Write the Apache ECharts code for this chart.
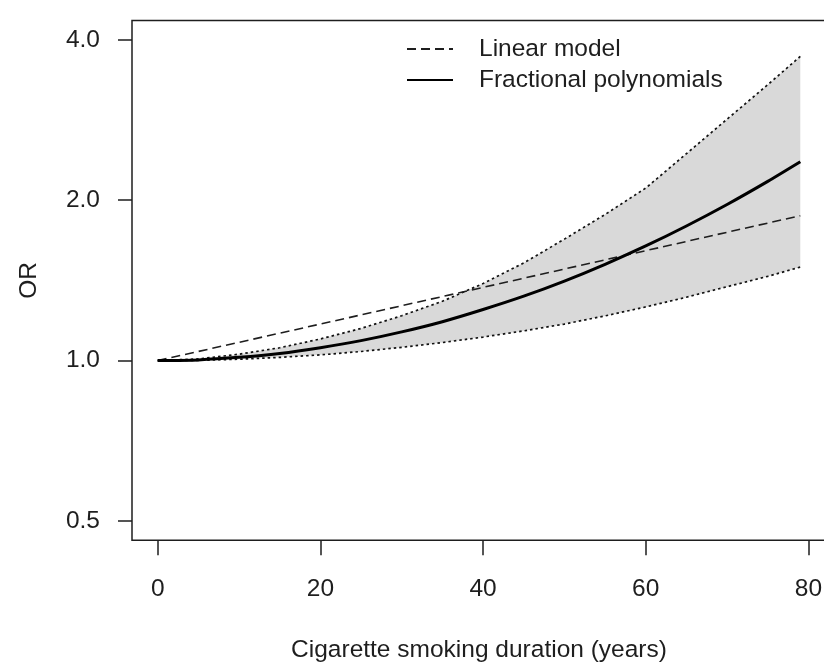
<!DOCTYPE html>
<html>
<head>
<meta charset="utf-8">
<title>OR by cigarette smoking duration</title>
<script src="https://cdn.jsdelivr.net/npm/echarts@6/dist/echarts.min.js"></script>
<style>
  html, body { margin: 0; padding: 0; background: #ffffff; }
  #chart { width: 824px; height: 662px; }
</style>
</head>
<body>
<div id="chart"></div>
<script>
// Smoking duration grid (years) for the fractional polynomial fit and its 95% CI
const years = [0, 5, 10, 15, 20, 25, 30, 35, 40, 45, 50, 55, 60, 65, 70, 75, 79];
const fpOR = [1.000, 1.003, 1.014, 1.031, 1.057, 1.090, 1.132, 1.183, 1.247, 1.321,
              1.410, 1.516, 1.641, 1.789, 1.963, 2.169, 2.361];
const ciLower = [1.000, 1.001, 1.006, 1.014, 1.025, 1.040, 1.059, 1.081, 1.107, 1.137,
                 1.171, 1.213, 1.261, 1.315, 1.376, 1.439, 1.498];
const ciUpper = [1.000, 1.007, 1.028, 1.057, 1.098, 1.149, 1.214, 1.292, 1.395, 1.525,
                 1.690, 1.880, 2.107, 2.445, 2.838, 3.294, 3.722];

// Linear (log-linear) model
const linearYears = [0, 20, 40, 60, 79];
const linearOR = [1.000, 1.171, 1.372, 1.608, 1.870];

// Axis ticks
const xTicks = [0, 20, 40, 60, 80];
const yTicks = [0.5, 1, 2, 4];

const pairs = (xs, ys) => xs.map((x, i) => [x, ys[i]]);

const ink = '#1e1e1e';
const font = '"Liberation Sans", Arial, Helvetica, sans-serif';
const fs = 24.5;

const chart = echarts.init(document.getElementById('chart'), null, { renderer: 'canvas' });

// Confidence band: one polygon along the upper bound and back along the lower bound
function renderBand(params, api) {
  const pts = [];
  for (let i = 0; i < years.length; i++) pts.push(api.coord([years[i], ciUpper[i]]));
  for (let i = years.length - 1; i >= 0; i--) pts.push(api.coord([years[i], ciLower[i]]));
  return { type: 'polygon', shape: { points: pts, smooth: 0 }, style: { fill: '#d9d9d9' }, silent: true };
}

chart.setOption({
  animation: false,
  backgroundColor: '#ffffff',
  textStyle: { fontFamily: font, color: ink },
  grid: {
    left: 132, top: 20.5, right: -2, bottom: 121.7,
    outerBoundsMode: 'none',
    containLabel: false,
    show: true, borderColor: ink, borderWidth: 1.5, backgroundColor: 'transparent'
  },
  legend: {
    data: ['Linear model', 'Fractional polynomials'],
    orient: 'vertical',
    left: 406, top: 35, padding: 0,
    itemWidth: 46, itemHeight: 14, itemGap: 3,
    selectedMode: false,
    itemStyle: { opacity: 0 },
    textStyle: { fontFamily: font, fontSize: fs, color: ink, lineHeight: 28, padding: [0, 0, 0, 21] }
  },
  xAxis: {
    type: 'value',
    min: -3.16, max: 82.16,
    splitLine: { show: false },
    axisLine: { show: false, onZero: false },
    axisTick: { show: true, length: 15, lineStyle: { color: ink, width: 1.5 }, customValues: xTicks },
    axisLabel: {
      customValues: xTicks, margin: 36,
      fontFamily: font, fontSize: fs, color: ink,
      formatter: v => String(Math.round(v))
    },
    name: 'Cigarette smoking duration (years)',
    nameLocation: 'middle', nameGap: 97,
    nameTextStyle: { fontFamily: font, fontSize: fs, color: ink }
  },
  yAxis: {
    type: 'log', logBase: 2,
    min: 0.46, max: 4.347,
    splitLine: { show: false },
    axisLine: { show: false, onZero: false },
    axisTick: { show: true, length: 14, lineStyle: { color: ink, width: 1.5 }, customValues: yTicks },
    axisLabel: {
      customValues: yTicks, margin: 32,
      fontFamily: font, fontSize: fs, color: ink,
      padding: [6, 0, 0, 0],
      formatter: v => Number(v).toFixed(1)
    },
    name: 'OR',
    nameLocation: 'middle', nameRotate: 90, nameGap: 90,
    nameTextStyle: { fontFamily: font, fontSize: fs, color: ink }
  },
  series: [
    {
      name: 'ciBand', type: 'custom', coordinateSystem: 'cartesian2d',
      data: [[years[0], ciLower[0]]], renderItem: renderBand, silent: true, z: 1
    },
    {
      name: 'Upper 95% CI', type: 'line', data: pairs(years, ciUpper),
      symbol: 'none', lineStyle: { color: '#111111', width: 1.7, type: [2.5, 3] }, z: 3
    },
    {
      name: 'Lower 95% CI', type: 'line', data: pairs(years, ciLower),
      symbol: 'none', lineStyle: { color: '#111111', width: 1.7, type: [2.5, 3] }, z: 3
    },
    {
      name: 'Linear model', type: 'line', data: pairs(linearYears, linearOR),
      symbol: 'none', itemStyle: { color: ink }, lineStyle: { color: ink, width: 1.6, type: [9, 5] }, z: 4
    },
    {
      name: 'Fractional polynomials', type: 'line', data: pairs(years, fpOR),
      symbol: 'none', smooth: 0.2, itemStyle: { color: '#000000' }, lineStyle: { color: '#000000', width: 3 }, z: 5
    }
  ]
});
</script>
</body>
</html>
